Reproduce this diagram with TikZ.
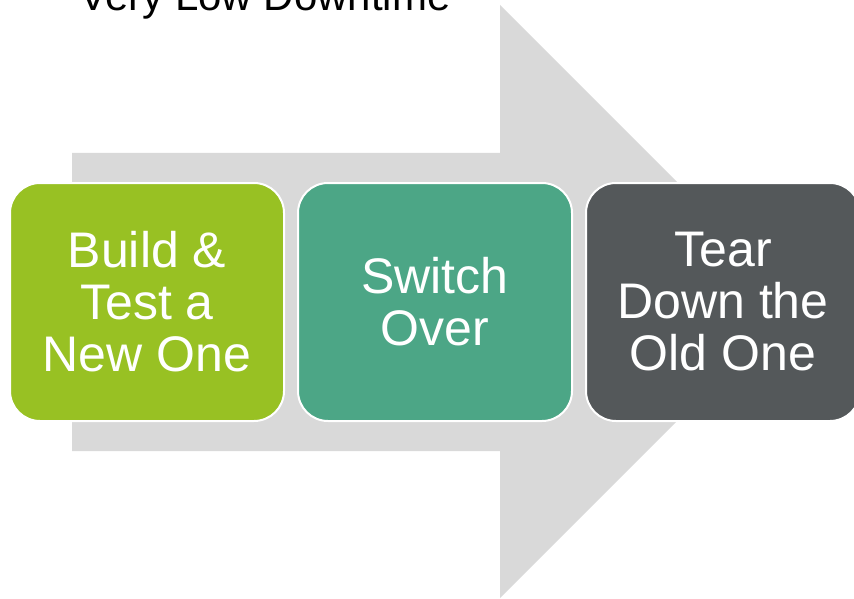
\documentclass[tikz,border=0pt]{standalone}
\usepackage{fontspec}
\setmainfont{Liberation Sans}
\usepackage{tikz}
\usetikzlibrary{positioning}

\definecolor{arrowgray}{HTML}{D9D9D9}
\definecolor{stepgreen}{HTML}{98C123}
\definecolor{stepteal}{HTML}{4CA686}
\definecolor{stepdark}{HTML}{54585A}

\tikzset{
  stage/.style={rectangle, rounded corners=30pt, draw=white, line width=2pt,
    minimum width=274pt, minimum height=238pt, inner sep=0pt,
    align=center, text=white, font={\fontsize{50}{52}\selectfont}},
}

\begin{document}
\begin{tikzpicture}[x=1pt, y=-1pt, node distance=12pt]
  \useasboundingbox (0,0) rectangle (854,599);
  \clip (0,0) rectangle (854,599);

  % big background arrow
  \fill[arrowgray] (72,153) -- (500,153) -- (500,5) -- (796.5,301.5)
    -- (500,598) -- (500,451) -- (72,451) -- cycle;

  \node[anchor=base, font={\fontsize{42}{52}\selectfont}] (title) at (265,11) {Very Low Downtime};

  \node[stage, fill=stepgreen] (build) at (147,302) {Build \&\\Test a\\New One};
  \node[stage, fill=stepteal, right=of build] (switch) {Switch\\Over};
  \node[stage, fill=stepdark, right=of switch] (tear) {Tear\\Down the\\Old One};
\end{tikzpicture}
\end{document}
